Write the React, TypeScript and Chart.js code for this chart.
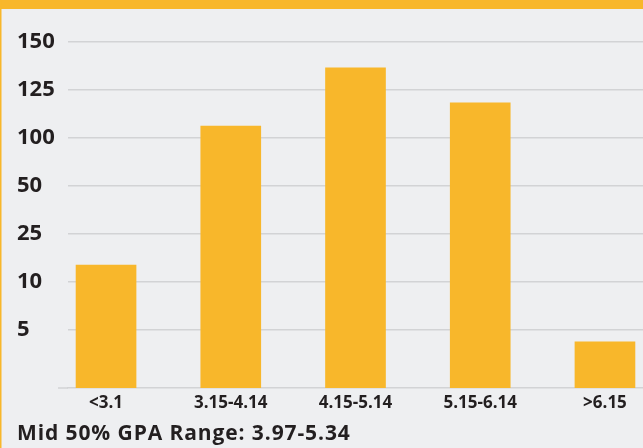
import React, { useEffect, useRef } from "react";
import { Chart, registerables } from "chart.js";

Chart.register(...registerables);

// Categories (GPA ranges)
const categories = ["<3.1", "3.15-4.14", "4.15-5.14", "5.15-6.14", ">6.15"];
// Y-axis tick labels (equally spaced, bottom to top)
const yTickLabels = ["5", "10", "25", "50", "100", "125", "150"];
// Bar heights measured in tick-step units (1 = "5", 7 = "150")
const barValues = [2.35, 5.25, 6.46, 5.73, 0.75];
const footerText = "Mid 50% GPA Range: 3.97-5.34";

const Y_MIN = -0.21;
const Y_MAX = 7;
const X_MIN = -0.305;
const X_MAX = 4.305;

const YELLOW = "#f8b72b";
const BG = "#eeeff1";
const TEXT = "#231f20";
const GRID = "#d2d3d5";
const FONT = "'Open Sans', sans-serif";

export default function App() {
  const ref = useRef<HTMLCanvasElement | null>(null);

  useEffect(() => {
    if (!ref.current) return;
    const decor = {
      id: "decor",
      beforeDraw(chart: any) {
        const { ctx, width, height } = chart;
        ctx.save();
        ctx.fillStyle = BG;
        ctx.fillRect(0, 0, width, height);
        ctx.restore();
      },
      afterDraw(chart: any) {
        const { ctx, width, chartArea } = chart;
        ctx.save();
        // extend baseline slightly left
        ctx.strokeStyle = GRID;
        ctx.lineWidth = 1.5;
        ctx.beginPath();
        ctx.moveTo(58, chartArea.bottom);
        ctx.lineTo(chartArea.left, chartArea.bottom);
        ctx.stroke();
        // top band and left border
        ctx.fillStyle = YELLOW;
        ctx.fillRect(0, 0, width, 9);
        ctx.fillRect(0, 0, 1.5, chart.height);
        // footer
        ctx.fillStyle = TEXT;
        ctx.font = `bold 21px ${FONT}`;
        (ctx as any).letterSpacing = "0.9px";
        ctx.textBaseline = "alphabetic";
        ctx.textAlign = "left";
        ctx.fillText(footerText, 17, 440);
        ctx.restore();
      },
    };

    const chart = new Chart(ref.current, {
      type: "bar",
      data: {
        datasets: [
          {
            data: categories.map((c, i) => ({ x: i, y: barValues[i] })) as any,
            backgroundColor: YELLOW,
            borderWidth: 0,
            barThickness: 60,
            base: Y_MIN,
          } as any,
        ],
      },
      plugins: [decor],
      options: {
        animation: false,
        responsive: false,
        devicePixelRatio: 1,
        layout: { padding: { top: 42, left: 17, right: 0, bottom: 0 } },
        plugins: { legend: { display: false }, tooltip: { enabled: false }, title: { display: false } },
        scales: {
          x: {
            type: "linear",
            offset: false,
            min: X_MIN,
            max: X_MAX,
            afterBuildTicks: (scale: any) => {
              scale.ticks = categories.map((c, i) => ({ value: i }));
            },
            afterFit: (scale: any) => {
              scale.height = 60;
            },
            grid: { display: false, drawTicks: false, offset: false },
            border: { display: true, color: GRID, width: 1.5 },
            ticks: {
              padding: 5,
              color: TEXT,
              font: { family: FONT, size: 17, weight: "bold" },
              maxRotation: 0,
              autoSkip: false,
              callback: (v: any) => categories[v as number] ?? "",
            },
          },
          y: {
            type: "linear",
            min: Y_MIN,
            max: Y_MAX,
            afterBuildTicks: (scale: any) => {
              scale.ticks = yTickLabels.map((l, i) => ({ value: i + 1 }));
            },
            afterFit: (scale: any) => {
              scale.width = 51;
            },
            grid: { color: GRID, lineWidth: 1.5, drawTicks: false },
            border: { display: false },
            ticks: {
              crossAlign: "far",
              padding: 0,
              color: TEXT,
              font: { family: FONT, size: 22, weight: "bold" },
              callback: (v: any) => yTickLabels[(v as number) - 1] ?? "",
            },
          },
        },
      } as any,
    });
    return () => chart.destroy();
  }, []);

  return (
    <div style={{ position: "fixed", left: 0, top: 0, width: 643, height: 448, overflow: "hidden" }}>
      <canvas ref={ref} width={643} height={448} style={{ display: "block", width: 643, height: 448 }} />
    </div>
  );
}
